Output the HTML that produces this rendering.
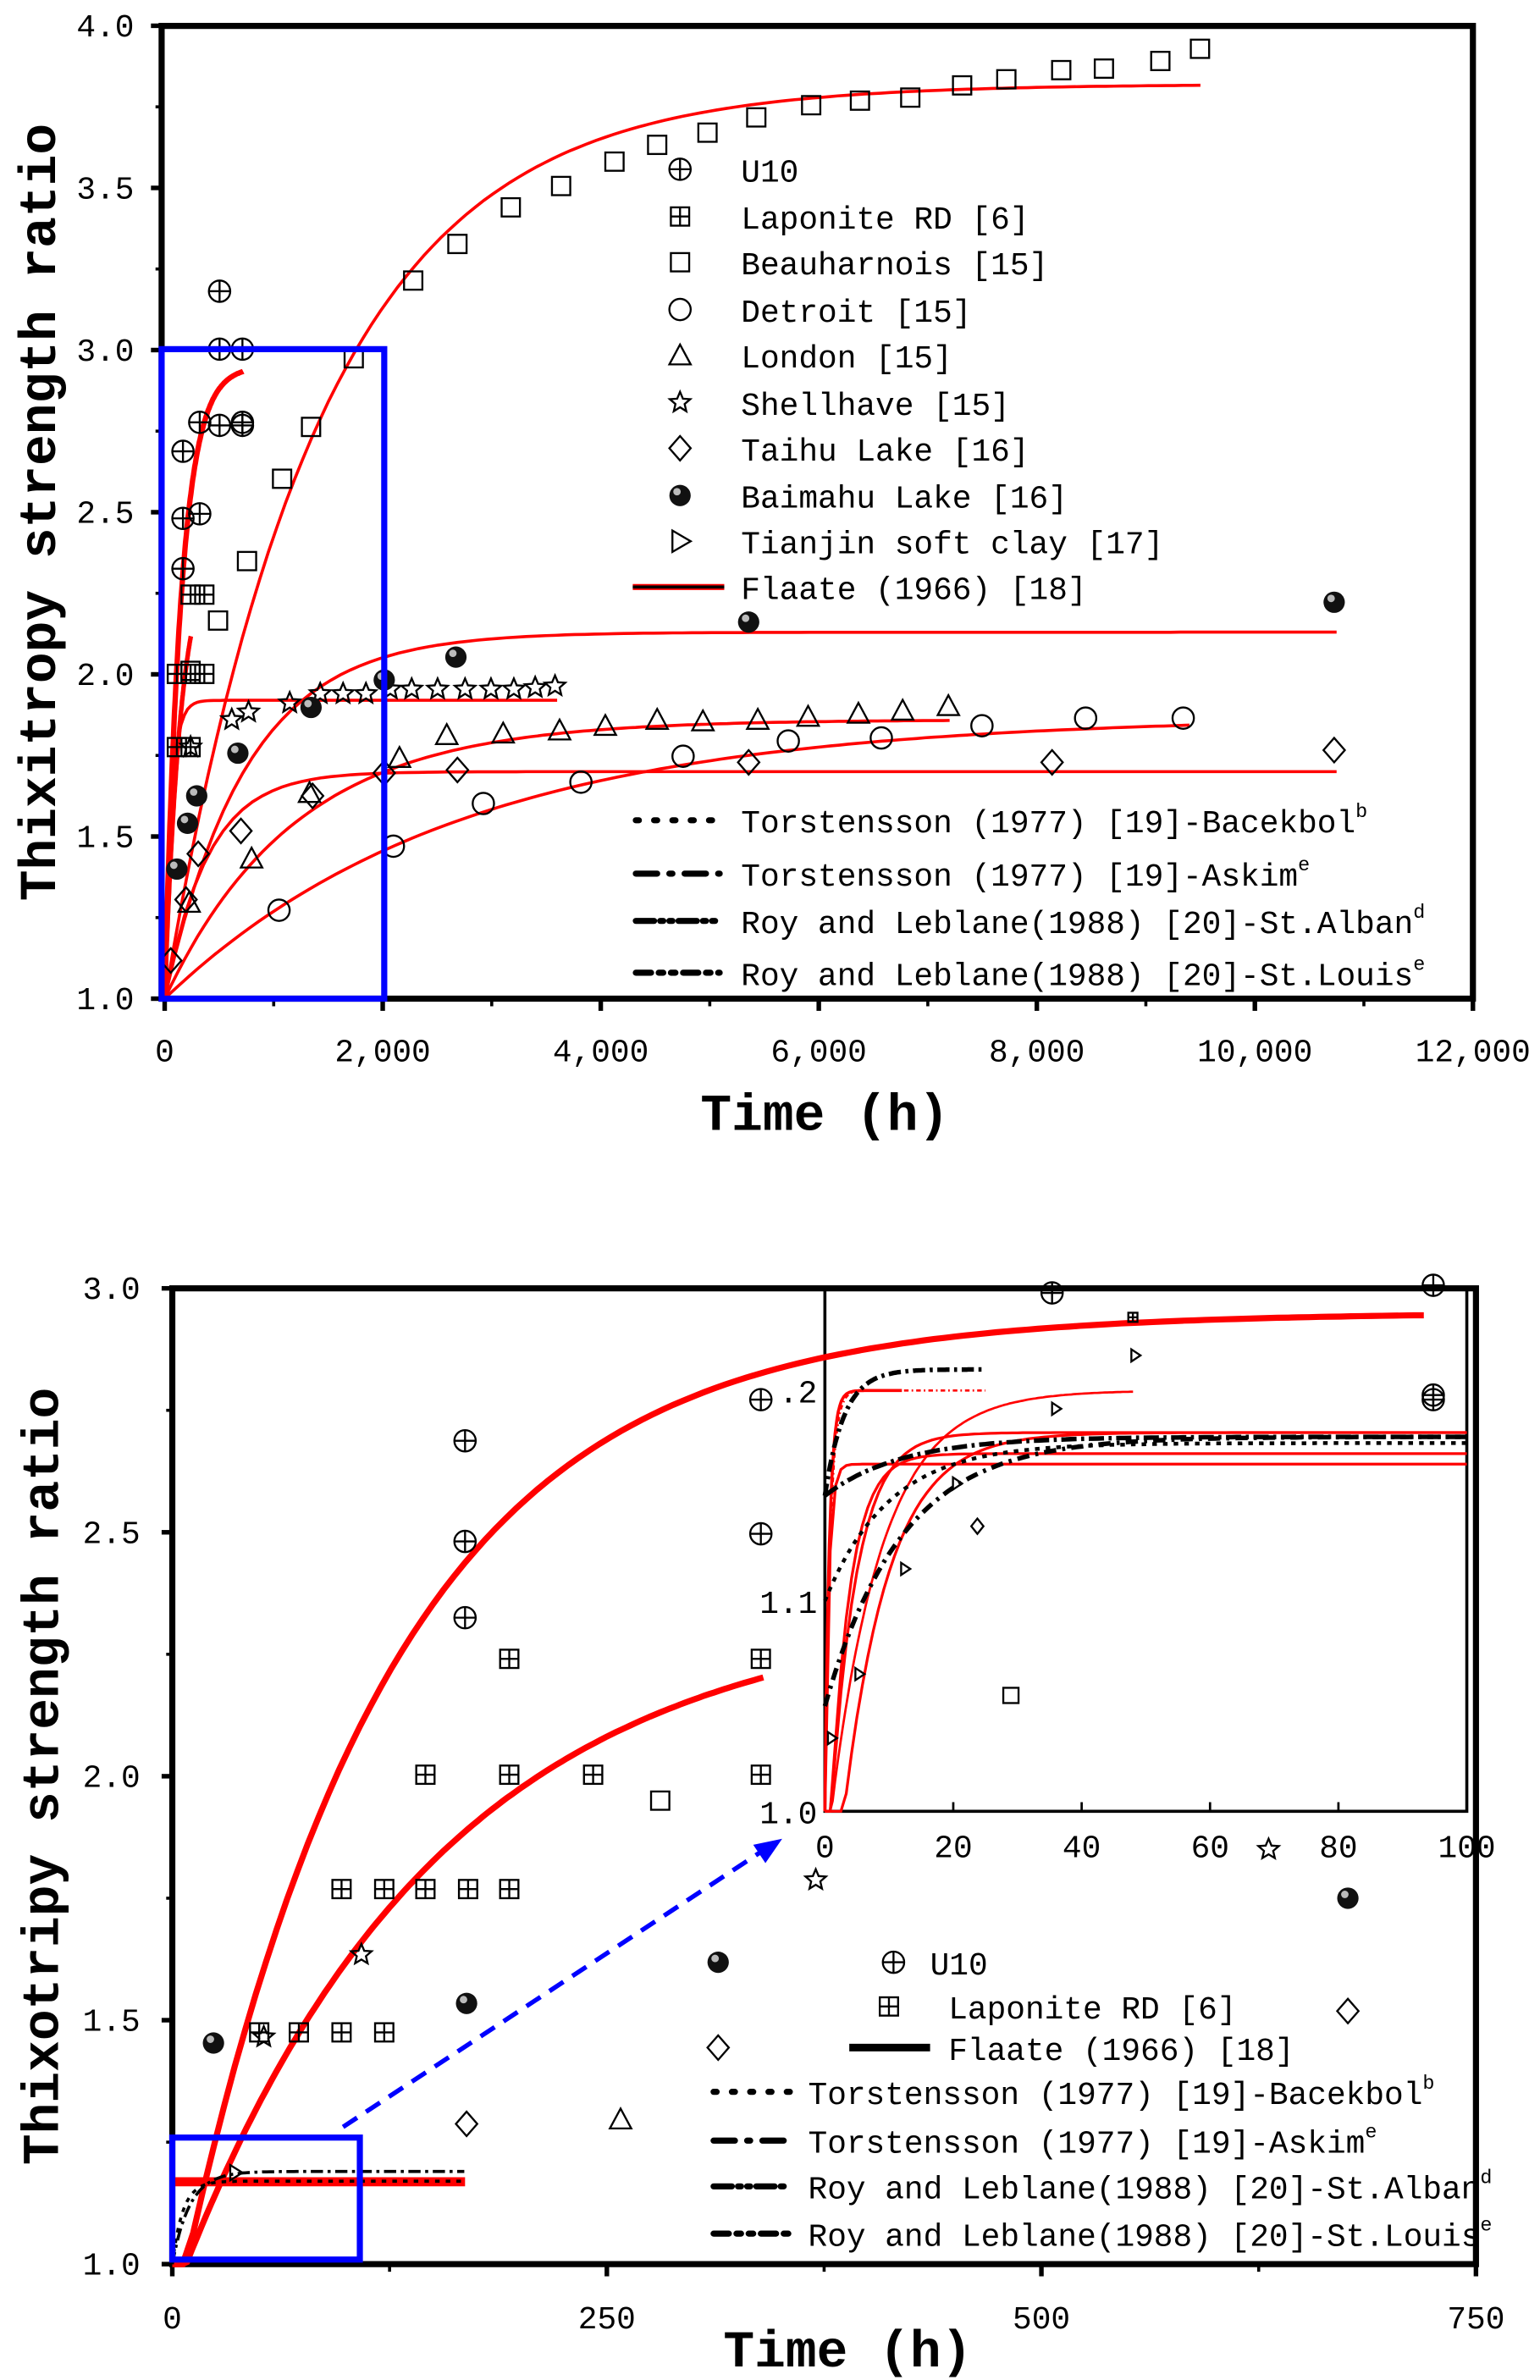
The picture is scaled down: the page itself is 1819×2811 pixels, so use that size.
<!DOCTYPE html>
<html><head><meta charset="utf-8"><style>
html,body{margin:0;padding:0;background:#fff}
svg{display:block}
text{font-family:"Liberation Mono","Noto Serif CJK SC",monospace;fill:#000}
</style></head><body>
<svg id="s" width="1819" height="2811" viewBox="0 0 1010 1561" preserveAspectRatio="none" xmlns="http://www.w3.org/2000/svg">
<rect width="1010" height="1561" fill="#fff"/>
<g id="g"></g>
</svg>
<script>
var g=document.getElementById('g'),h='';
function add(s){h+=s;}
function txt(x,y,s,sz,anc,extra){add('<text x="'+x+'" y="'+y+'" font-size="'+sz+'" text-anchor="'+(anc||'start')+'" '+(extra||'')+'>'+s+'</text>');}
function mk(t,x,y,r){r=r||7;var st='fill="none" stroke="#000" stroke-width="1.3"';
 if(t=='U'){add('<circle cx="'+x+'" cy="'+y+'" r="'+r+'" '+st+'/><path d="M'+(x-r)+' '+y+'H'+(x+r)+'M'+x+' '+(y-r)+'V'+(y+r)+'" '+st+'/>');}
 else if(t=='L'){add('<rect x="'+(x-r+1)+'" y="'+(y-r+1)+'" width="'+(2*r-2)+'" height="'+(2*r-2)+'" '+st+'/><path d="M'+(x-r+1)+' '+y+'H'+(x+r-1)+'M'+x+' '+(y-r+1)+'V'+(y+r-1)+'" '+st+'/>');}
 else if(t=='S'){add('<rect x="'+(x-r+1)+'" y="'+(y-r+1)+'" width="'+(2*r-2)+'" height="'+(2*r-2)+'" '+st+'/>');}
 else if(t=='C'){add('<circle cx="'+x+'" cy="'+y+'" r="'+r+'" '+st+'/>');}
 else if(t=='T'){add('<path d="M'+x+' '+(y-r)+'L'+(x+r)+' '+(y+r-1)+'L'+(x-r)+' '+(y+r-1)+'Z" '+st+'/>');}
 else if(t=='D'){add('<path d="M'+x+' '+(y-r-1)+'L'+(x+r)+' '+y+'L'+x+' '+(y+r+1)+'L'+(x-r)+' '+y+'Z" '+st+'/>');}
 else if(t=='R'){add('<path d="M'+(x-r+2)+' '+(y-r)+'L'+(x+r)+' '+y+'L'+(x-r+2)+' '+(y+r)+'Z" '+st+'/>');}
 else if(t=='B'){add('<circle cx="'+x+'" cy="'+y+'" r="'+r+'" fill="#111"/><circle cx="'+(x-2)+'" cy="'+(y-2.5)+'" r="'+(r*0.35)+'" fill="#bbb"/>');}
 else if(t=='P'){var p='';for(var i=0;i<10;i++){var a=-Math.PI/2+i*Math.PI/5,rr=i%2?r*0.45:r;p+=(i?'L':'M')+(x+rr*Math.cos(a)).toFixed(1)+' '+(y+rr*Math.sin(a)).toFixed(1);}add('<path d="'+p+'Z" '+st+'/>');}
}
function curve(X,Y,t0,t1,f,w,col,dash){var p='';for(var i=0;i<=120;i++){var t=t0+(t1-t0)*i/120;p+=(i?'L':'M')+X(t).toFixed(1)+' '+Y(f(t)).toFixed(1);}
 add('<path d="'+p+'" fill="none" stroke="'+(col||'red')+'" stroke-width="'+w+'"'+(dash?' stroke-dasharray="'+dash+'"':'')+'/>');}
function ex(a,m,k,o){o=o||0;return function(t){var tt=Math.max(0,t-o);return a+(m-a)*(1-Math.exp(-tt/k));};}

/* ---------- TOP CHART ---------- */
var X1=function(t){return 108+t*0.0715;},Y1=function(v){return 655-(v-1)*212.7;};
add('<rect x="106" y="17" width="860" height="638" fill="none" stroke="#000" stroke-width="4"/>');
[1,1.5,2,2.5,3,3.5,4].forEach(function(v){var y=Y1(v);add('<path d="M99 '+y+'H106" stroke="#000" stroke-width="3"/>');txt(88,y+7,v.toFixed(1),21,'end');});
[1.25,1.75,2.25,2.75,3.25,3.75].forEach(function(v){add('<path d="M102 '+Y1(v)+'H106" stroke="#000" stroke-width="2"/>');});
[0,2000,4000,6000,8000,10000,12000].forEach(function(t,i){var x=X1(t);add('<path d="M'+x+' 655V663" stroke="#000" stroke-width="3"/>');txt(x,696,['0','2,000','4,000','6,000','8,000','10,000','12,000'][i],21,'middle');});
[1000,3000,5000,7000,9000,11000].forEach(function(t){add('<path d="M'+X1(t)+' 655V660" stroke="#000" stroke-width="2"/>');});
txt(0,0,'Thixitropy strength ratio',34,'middle','transform="translate(36 336) rotate(-90)" font-weight="bold"');
txt(541,741,'Time (h)',34,'middle','font-weight="bold"');
// curves
curve(X1,Y1,0,9500,ex(1,3.82,1420),2);
curve(X1,Y1,0,10750,ex(1,2.13,750),2);
curve(X1,Y1,0,3600,ex(1,1.92,60),2);
curve(X1,Y1,0,7200,ex(1,1.86,1200),2);
curve(X1,Y1,0,9400,ex(1,1.87,2700),2);
curve(X1,Y1,0,10750,ex(1,1.70,400),2);
curve(X1,Y1,0,720,ex(1,2.95,150),3.5);
curve(X1,Y1,0,240,ex(1,2.4,150),3);
// markers
[[162,368],[185,314],[204,280],[232,235],[271,184],[300,160],[335,136],[368,122],[403,106],[431,95],[464,87],[496,77],[532,69],[564,66],[597,64],[631,56],[660,52],[696,46],[724,45],[761,40],[787,32],[143,407],[125,440]].forEach(function(p){mk('S',p[0],p[1]);});
[[183,597],[258,555],[317,527],[381,513],[448,496],[517,486],[578,484],[644,476],[712,471],[776,471]].forEach(function(p){mk('C',p[0],p[1]);});
[[165,563],[203,520],[262,497],[293,482],[330,481],[367,479],[397,476],[431,472],[461,473],[497,472],[530,470],[563,468],[592,466],[622,463],[124,592]].forEach(function(p){mk('T',p[0],p[1]);});
[[875,492],[690,500],[491,500],[300,505],[252,507],[205,522],[158,545],[130,560],[122,590],[112,630]].forEach(function(p){mk('D',p[0],p[1]);});
[[125,490],[152,472],[163,467],[190,461],[210,455],[225,455],[240,455],[256,452],[270,452],[287,452],[305,452],[322,452],[337,452],[351,451],[364,450]].forEach(function(p){mk('P',p[0],p[1]);});
[[144,191],[144,229],[159,229],[131,277],[144,279],[159,277],[159,279],[120,296],[120,340],[131,337],[120,373]].forEach(function(p){mk('U',p[0],p[1]);});
[[125,390],[134,390],[116,442],[125,442],[134,442],[116,490],[125,490]].forEach(function(p){mk('L',p[0],p[1]);});
[[123,540],[129,522],[156,494],[204,464],[252,446],[299,431],[491,408],[875,395],[116,570]].forEach(function(p){mk('B',p[0],p[1]);});
add('<rect x="106" y="229" width="146" height="426" fill="none" stroke="#0000ff" stroke-width="4"/>');
// legend
var lt=[['U','U10'],['L','Laponite RD [6]'],['S','Beauharnois [15]'],['C','Detroit [15]'],['T','London [15]'],['P','Shellhave [15]'],['D','Taihu Lake [16]'],['B','Baimahu Lake [16]'],['R','Tianjin soft clay [17]']];
var ly=[111,142,172,203,233,264,294,325,355];
lt.forEach(function(l,i){mk(l[0],446,ly[i]);txt(486,ly[i]+8,l[1],21);});
add('<path d="M415 385H475" stroke="red" stroke-width="4"/>');add('<path d="M415 385H475" stroke="#000" stroke-width="2"/>');txt(486,393,'Flaate (1966) [18]',21);
var dl=[['2 10','Torstensson (1977) [19]-Bacekbol','b'],['14 8 2 8','Torstensson (1977) [19]-Askim','e'],['12 4 2 4 2 4','Roy and  Leblane(1988) [20]-St.Alban','d'],['10 5 3 5 3 5','Roy and  Leblane(1988) [20]-St.Louis','e']];
var dy=[538,573,604,638];
dl.forEach(function(d,i){add('<path d="M417 '+dy[i]+'H472" stroke="#000" stroke-width="4" stroke-dasharray="'+d[0]+'" stroke-linecap="round"/>');add('<text x="486" y="'+(dy[i]+8)+'" font-size="21">'+d[1]+'<tspan font-size="13" dy="-10">'+d[2]+'</tspan></text>');});

/* ---------- BOTTOM CHART ---------- */
var X2=function(t){return 113+t*1.14;},Y2=function(v){return 1485-(v-1)*320;};
add('<rect x="113" y="845" width="855" height="640" fill="none" stroke="#000" stroke-width="4"/>');
[1,1.5,2,2.5,3].forEach(function(v){var y=Y2(v);add('<path d="M106 '+y+'H113" stroke="#000" stroke-width="3"/>');txt(92,y+7,v.toFixed(1),21,'end');});
[1.25,1.75,2.25,2.75].forEach(function(v){add('<path d="M109 '+Y2(v)+'H113" stroke="#000" stroke-width="2"/>');});
[0,250,500,750].forEach(function(t){var x=X2(t);add('<path d="M'+x+' 1485V1493" stroke="#000" stroke-width="3"/>');txt(x,1527,String(t),21,'middle');});
[125,375,625].forEach(function(t){add('<path d="M'+X2(t)+' 1485V1490" stroke="#000" stroke-width="2"/>');});
txt(0,0,'Thixotripy strength ratio',34,'middle','transform="translate(38 1165) rotate(-90)" font-weight="bold"');
txt(556,1552,'Time (h)',34,'middle','font-weight="bold"');
// inset
var Xi=function(t){return 541+t*4.21;},Yi=function(v){return 1188-(v-1)*1380;};
add('<path d="M541 845V1188H962V845" fill="none" stroke="#000" stroke-width="2"/>');
[0,20,40,60,80,100].forEach(function(t){var x=Xi(t);add('<path d="M'+x+' 1188V1182" stroke="#000" stroke-width="1.5"/>');txt(x,1218,String(t),21,'middle');});
txt(536,1196,'1.0',21,'end');txt(536,1058,'1.1',21,'end');txt(536,920,'.2',21,'end');
curve(X2,Y2,0,720,ex(1,2.95,120,8),4);
curve(X2,Y2,0,340,ex(1,2.35,150,8),4);
add('<path d="M113 1431H305" stroke="red" stroke-width="6"/>');
curve(X2,Y2,0,168,ex(1,1.19,10),2,'#000','8 3 2 3');
curve(X2,Y2,0,168,ex(1,1.17,6),2,'#000','3 4');
// inset curves
curve(Xi,Yi,0,25,ex(1,1.2,0.8),1.5,'red','3 2 1 2');
curve(Xi,Yi,0,12,ex(1,1.2,0.7),2,'red');
curve(Xi,Yi,0,48,ex(1,1.2,8,1),1.5,'red');
curve(Xi,Yi,0,100,ex(1,1.18,4,1),1.8,'red');
curve(Xi,Yi,0,100,ex(1,1.17,3,1),1.8,'red');
curve(Xi,Yi,0,100,ex(1,1.165,0.6),1.8,'red');
curve(Xi,Yi,0,100,ex(1,1.18,7,3),1.8,'red');
curve(Xi,Yi,0,25,ex(1.15,1.21,3),3,'#000','8 3 2 3');
curve(Xi,Yi,0,100,ex(1.15,1.178,12),3,'#000','10 3 2 3');
curve(Xi,Yi,0,100,ex(1.05,1.178,12),3,'#000','8 4 2 4');
curve(Xi,Yi,0,100,ex(1.1,1.175,10),2.5,'#000','3 4');
// inset markers small
[[744,889],[692,924],[627,973],[593,1029],[563,1098],[545,1140]].forEach(function(p){mk('R',p[0],p[1],4);});
mk('D',641,1001,4);mk('L',743,864,4);mk('S',663,1112,6);
// bottom markers
[[305,945],[305,1011],[305,1061],[499,918],[499,1006],[690,848],[940,843],[940,915],[940,918]].forEach(function(p){mk('U',p[0],p[1]);});
[[224,1239],[252,1239],[279,1239],[307,1239],[334,1239],[279,1164],[334,1164],[389,1164],[499,1164],[334,1088],[499,1088],[170,1333],[196,1333],[224,1333],[252,1333]].forEach(function(p){mk('L',p[0],p[1]);});
mk('S',433,1181);
[[237,1282],[173,1336],[535,1233],[832,1213]].forEach(function(p){mk('P',p[0],p[1]);});
[[140,1340],[306,1314],[471,1287],[884,1245]].forEach(function(p){mk('B',p[0],p[1]);});
[[306,1393],[471,1343],[884,1319]].forEach(function(p){mk('D',p[0],p[1]);});
mk('T',407,1390);mk('R',154,1425,5);
add('<rect x="113" y="1402" width="123" height="80" fill="none" stroke="#0000ff" stroke-width="4"/>');
add('<path d="M225 1395L500 1214" stroke="#0000ff" stroke-width="3" stroke-dasharray="11 7"/><path d="M513 1206L494 1210L502 1222Z" fill="#0000ff"/>');
// bottom legend
mk('U',586,1287);txt(610,1295,'U10',21);
mk('L',583,1316);txt(622,1324,'Laponite RD [6]',21);
add('<path d="M557 1343H610" stroke="#000" stroke-width="5"/>');txt(622,1351,'Flaate (1966) [18]',21);
var by=[1372,1404,1434,1465];
dl.forEach(function(d,i){add('<path d="M468 '+by[i]+'H518" stroke="#000" stroke-width="4" stroke-dasharray="'+d[0]+'" stroke-linecap="round"/>');add('<text x="530" y="'+(by[i]+8)+'" font-size="21">'+d[1]+'<tspan font-size="13" dy="-10">'+d[2]+'</tspan></text>');});
g.innerHTML=h;
</script>
</body></html>
